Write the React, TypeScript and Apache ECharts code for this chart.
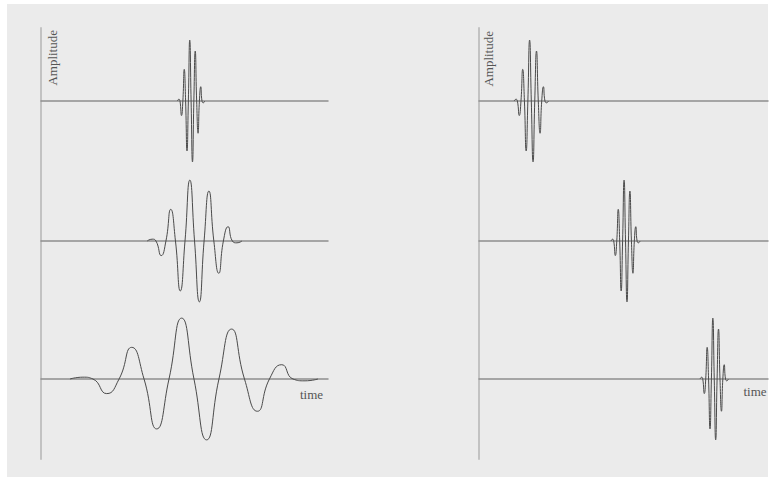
import React, { useEffect, useRef } from 'react';
import * as echarts from 'echarts';

// Mother wavelet (time offset from centre, normalised amplitude)
const MOTHER_T = [-43.2, -38.7, -35.2, -30.4, -26.1, -21.7, -17.4, -13.0, -8.7, -4.3, 0, 4.4, 8.7, 13.1, 17.6, 22.1, 26.3, 30.6, 34.5, 38.7, 43.2];
const MOTHER_A = [0, 0.03, 0, -0.24, 0, 0.52, 0, -0.82, 0, 1.0, 0, -1.0, 0, 0.82, 0, -0.53, 0, 0.235, 0, -0.03, 0];

// Left panel: dilations (top to bottom)
const SCALE_CENTERS = [52.3, 53.5, 53.3];
const SCALE_WIDTHS = [0.11, 0.382, 1];
// Right panel: translations (top to bottom)
const SHIFT_CENTERS = [18.1, 50.7, 81.4];
const SHIFT_WIDTHS = [0.137, 0.116, 0.113];

const AXIS_LABEL_Y = 'Amplitude';
const AXIS_LABEL_X = 'time';

const FONT = "'Liberation Serif', 'DejaVu Serif', serif";

function traceData(center: number, width: number) {
  return MOTHER_T.map((t, i) => [center + t * width, MOTHER_A[i]]);
}

export default function App() {
  const ref = useRef<HTMLDivElement>(null);
  useEffect(() => {
    if (!ref.current) return;
    const chart = echarts.init(ref.current, undefined, { renderer: 'svg' });
    const baselines = [101, 241, 379];
    const half = 70;
    const panels = [
      { left: 41, width: 287, centers: SCALE_CENTERS, widths: SCALE_WIDTHS },
      { left: 479, width: 289, centers: SHIFT_CENTERS, widths: SHIFT_WIDTHS },
    ];
    const grid: any[] = [];
    const xAxis: any[] = [];
    const yAxis: any[] = [];
    const series: any[] = [];
    panels.forEach((p) => {
      grid.push({ left: p.left, top: 28, width: p.width, height: 431 });
      xAxis.push({ gridIndex: grid.length - 1, type: 'value', min: 0, max: 100, show: false });
      yAxis.push({
        gridIndex: grid.length - 1,
        type: 'value',
        min: 0,
        max: 1,
        axisLine: { show: true, lineStyle: { color: '#c2c2c2', width: 2 } },
        axisTick: { show: false },
        axisLabel: { show: false },
        splitLine: { show: false },
      });
      baselines.forEach((b, r) => {
        grid.push({ left: p.left, top: b - half, width: p.width, height: half * 2 });
        const gi = grid.length - 1;
        xAxis.push({
          gridIndex: gi,
          type: 'value',
          min: 0,
          max: 100,
          axisLine: { show: true, onZero: true, lineStyle: { color: '#8e8e8e', width: 1.5 } },
          axisTick: { show: false },
          axisLabel: { show: false },
          splitLine: { show: false },
        });
        yAxis.push({
          gridIndex: gi,
          type: 'value',
          min: -1.15,
          max: 1.15,
          axisLine: { show: false },
          axisTick: { show: false },
          axisLabel: { show: false },
          splitLine: { show: false },
        });
        series.push({
          type: 'line',
          xAxisIndex: gi,
          yAxisIndex: gi,
          data: traceData(p.centers[r], p.widths[r]),
          showSymbol: false,
          smooth: 0.55,
          lineStyle: { color: '#4a4a4a', width: 1 },
          z: 3,
        });
      });
    });

    chart.setOption({
      animation: false,
      backgroundColor: 'transparent',
      grid,
      xAxis,
      yAxis,
      series,
      graphic: [
        {
          type: 'text',
          x: 45.5,
          y: 30,
          rotation: Math.PI / 2,
          style: { text: AXIS_LABEL_Y, fill: '#555', font: `13px ${FONT}`, align: 'right', verticalAlign: 'top' },
        },
        {
          type: 'text',
          x: 482,
          y: 31,
          rotation: Math.PI / 2,
          style: { text: AXIS_LABEL_Y, fill: '#555', font: `13px ${FONT}`, align: 'right', verticalAlign: 'top' },
        },
        {
          type: 'text',
          x: 311.5,
          y: 394,
          style: { text: AXIS_LABEL_X, fill: '#555', font: `13px ${FONT}`, align: 'center', verticalAlign: 'middle' },
        },
        {
          type: 'text',
          x: 755,
          y: 391,
          style: { text: AXIS_LABEL_X, fill: '#555', font: `13px ${FONT}`, align: 'center', verticalAlign: 'middle' },
        },
      ],
    });
    return () => chart.dispose();
  }, []);

  return (
    <div style={{ position: 'absolute', left: 0, top: 0, width: 769, height: 477, background: '#ffffff' }}>
      <div style={{ position: 'absolute', left: 7, top: 4, width: 761, height: 473, background: '#ebebeb' }} />
      <div ref={ref} style={{ position: 'absolute', left: 0, top: 0, width: 769, height: 477 }} />
    </div>
  );
}
